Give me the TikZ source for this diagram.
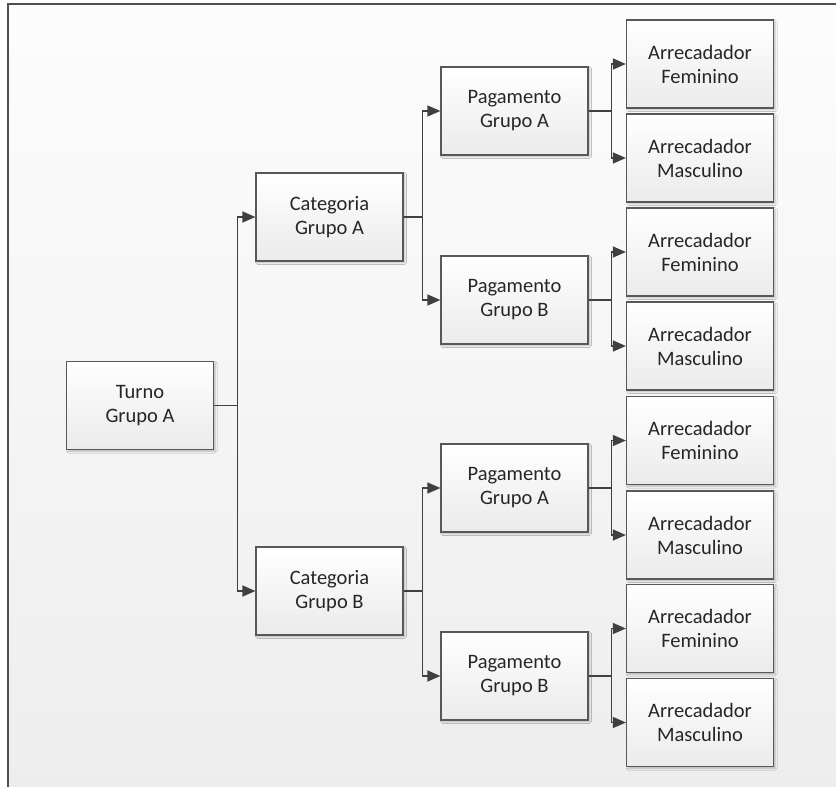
\documentclass[tikz,border=0pt]{standalone}
\usepackage{fontspec}
\setmainfont{Carlito}
\usetikzlibrary{arrows.meta,shadows.blur}
\definecolor{edgegray}{HTML}{585858}
\definecolor{linegray}{HTML}{404040}
\definecolor{textgray}{HTML}{262626}
\tikzset{
  box/.style={draw=edgegray, line width=1.2pt, top color=white, bottom color=black!8,
    minimum width=147pt, minimum height=88pt, inner sep=0pt, align=center,
    text=textgray, font=\fontsize{20.5}{24}\selectfont,
    blur shadow={shadow xshift=1.6pt, shadow yshift=-1.6pt, shadow blur steps=4, shadow opacity=25}},
  link/.style={draw=linegray, line width=1.3pt, -{Triangle[length=13pt,width=11pt]}}
}
\begin{document}
\begin{tikzpicture}[x=1pt,y=-1pt]
\useasboundingbox (0,0) rectangle (836,787);
% page background and frame
\fill[white] (0,0) rectangle (836,787);
\shade[top color=black!1, bottom color=black!7] (8,4) rectangle (836,787);
\draw[edgegray!90!black, line width=1.6pt] (8,787) -- (8,4) -- (836,4);

% level 1
\node[box] (turno) at (140,405.5) {Turno\\Grupo A};
% level 2
\node[box] (catA) at (329.5,217) {Categoria\\Grupo A};
\node[box] (catB) at (329.5,591) {Categoria\\Grupo B};
% level 3
\node[box] (pagAA) at (514.5,111) {Pagamento\\Grupo A};
\node[box] (pagAB) at (514.5,300) {Pagamento\\Grupo B};
\node[box] (pagBA) at (514.5,488) {Pagamento\\Grupo A};
\node[box] (pagBB) at (514.5,676) {Pagamento\\Grupo B};
% level 4
\node[box] (arr1) at (700,64)    {Arrecadador\\Feminino};
\node[box] (arr2) at (700,158)   {Arrecadador\\Masculino};
\node[box] (arr3) at (700,252)   {Arrecadador\\Feminino};
\node[box] (arr4) at (700,346)   {Arrecadador\\Masculino};
\node[box] (arr5) at (700,440.5) {Arrecadador\\Feminino};
\node[box] (arr6) at (700,535)   {Arrecadador\\Masculino};
\node[box] (arr7) at (700,628.5) {Arrecadador\\Feminino};
\node[box] (arr8) at (700,722.5) {Arrecadador\\Masculino};

% connectors
\foreach \p/\c in {turno/catA, turno/catB}
  \draw[link] (\p.east) -- ([xshift=23.5pt]\p.east) |- (\c.west);
\foreach \p/\c in {catA/pagAA, catA/pagAB, catB/pagBA, catB/pagBB}
  \draw[link] (\p.east) -- ([xshift=19pt]\p.east) |- (\c.west);
\foreach \p/\c in {pagAA/arr1, pagAA/arr2, pagAB/arr3, pagAB/arr4,
                   pagBA/arr5, pagBA/arr6, pagBB/arr7, pagBB/arr8}
  \draw[link] (\p.east) -- ([xshift=23pt]\p.east) |- (\c.west);
\end{tikzpicture}
\end{document}
